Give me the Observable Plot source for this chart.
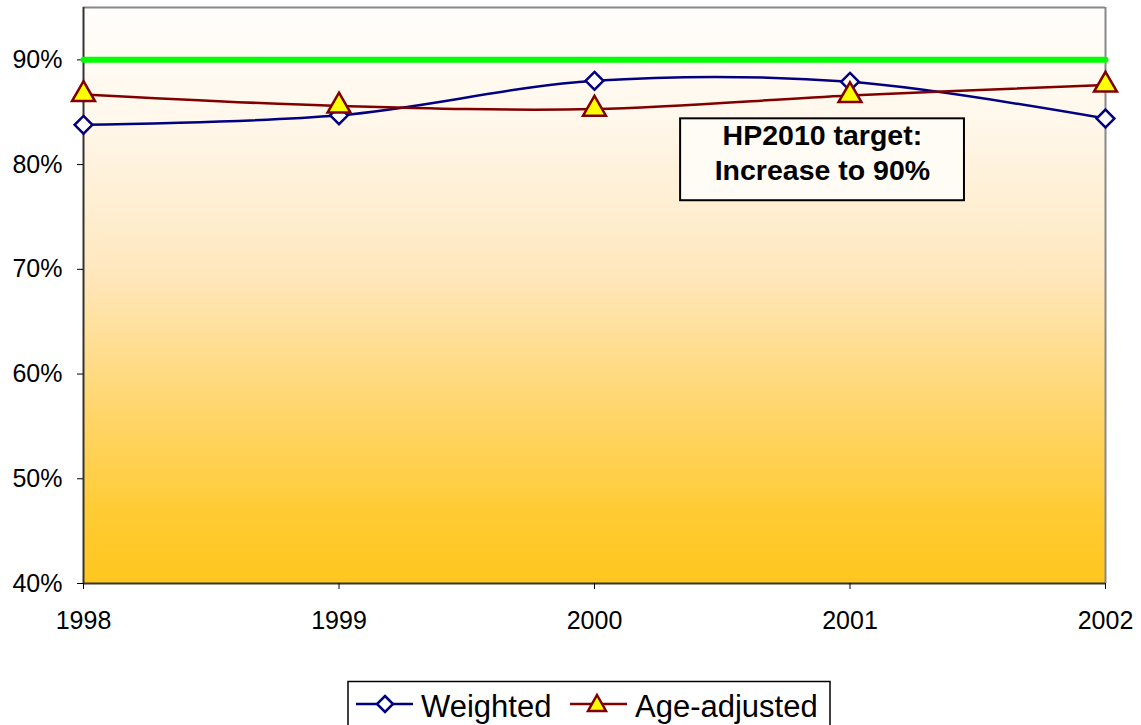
<!DOCTYPE html>
<html>
<head>
<meta charset="utf-8">
<script src="https://cdn.jsdelivr.net/npm/d3@7"></script>
<script src="https://cdn.jsdelivr.net/npm/@observablehq/plot@0.6"></script>
<style>
  html, body { margin: 0; padding: 0; background: #fff; }
  body { width: 1141px; height: 725px; overflow: hidden; font-family: "Liberation Sans", Arial, sans-serif; }
  #legend { position: relative; height: 53px; }
  #legend svg { position: absolute; left: 0; top: 0; }
  #chart svg g[aria-label$="tick label"] { font-size: 25px; }
  #chart svg g[aria-label$="tick label"] text { font-size: 25px; }
</style>
</head>
<body>
<div id="chart"></div>
<div id="legend"></div>
<script>
// ---- data ----
const years = [1998, 1999, 2000, 2001, 2002];
const weighted = [83.8, 84.7, 88.0, 87.9, 84.4];
const ageAdjusted = [86.7, 85.6, 85.3, 86.6, 87.6];
const target = 90;
const yTicks = [40, 50, 60, 70, 80, 90];
const seriesNames = ["Weighted", "Age-adjusted"];
const noteText = ["HP2010 target:\nIncrease to 90%"];
const noteBox = [{x1: 2000.337, x2: 2001.448, y1: 84.37, y2: 76.55, xc: 2000.892, yc: 81.3}];

const wData = years.map((y, i) => ({year: y, value: weighted[i]}));
const aData = years.map((y, i) => ({year: y, value: ageAdjusted[i]}));
const targetData = [{year: years[0], value: target}, {year: years[years.length - 1], value: target}];

const gradientDefs = () => {
  const ns = "http://www.w3.org/2000/svg";
  const defs = document.createElementNS(ns, "defs");
  defs.innerHTML = `
    <linearGradient id="bgGrad" x1="0" y1="0" x2="0" y2="1">
      <stop offset="0" stop-color="#fffefc"/>
      <stop offset="0.2" stop-color="#fff7ea"/>
      <stop offset="0.45" stop-color="#ffe8c0"/>
      <stop offset="0.72" stop-color="#ffd466"/>
      <stop offset="0.89" stop-color="#ffcb30"/>
      <stop offset="1" stop-color="#ffc61e"/>
    </linearGradient>`;
  return defs;
};

const chart = Plot.plot({
  width: 1141,
  height: 672,
  marginLeft: 83,
  marginRight: 36,
  marginTop: 7,
  marginBottom: 89,
  style: {fontFamily: "'Liberation Sans', Arial, sans-serif", fontSize: "25px", color: "#000", background: "transparent"},
  x: {domain: [1998, 2002], label: null},
  y: {domain: [40, 95], label: null},
  marks: [
    gradientDefs,
    Plot.frame({fill: "url(#bgGrad)", stroke: null}),
    Plot.ruleX([2002], {stroke: "#888", strokeWidth: 2}),
    Plot.ruleY([95], {stroke: "#888", strokeWidth: 2}),
    Plot.ruleX([1998], {stroke: "#333", strokeWidth: 2}),
    Plot.ruleY([40], {stroke: "#333", strokeWidth: 2}),
    Plot.axisY(yTicks, {tickSize: 6, tickPadding: 15, tickFormat: d => d + "%", fontSize: 25, stroke: "#000"}),
    Plot.axisX(years, {tickSize: 6, tickPadding: 22, tickFormat: d => String(d), fontSize: 25, stroke: "#000"}),
    Plot.line(targetData, {x: "year", y: "value", stroke: "#00ff00", strokeWidth: 6, strokeLinecap: "round"}),
    Plot.line(wData, {x: "year", y: "value", stroke: "#000080", strokeWidth: 2.5, curve: "catmull-rom"}),
    Plot.line(aData, {x: "year", y: "value", stroke: "#800000", strokeWidth: 2.5, curve: "catmull-rom"}),
    Plot.dot(wData, {x: "year", y: "value", symbol: "diamond2", r: 8, stroke: "#000080", fill: "#fff", strokeWidth: 2.5}),
    Plot.dot(aData, {x: "year", y: "value", symbol: "triangle", r: 8.5, stroke: "#800000", fill: "#ffff00", strokeWidth: 2.5}),
    Plot.rect(noteBox, {x1: "x1", x2: "x2", y1: "y1", y2: "y2", fill: "#fffcf6", stroke: "#000", strokeWidth: 2}),
    Plot.text(noteBox, {x: "xc", y: "yc", text: () => noteText[0], fontSize: 28.5, fontWeight: "bold", fill: "#000", lineHeight: 1.23})
  ]
});
document.getElementById("chart").appendChild(chart);

// ---- legend ----
const ns = "http://www.w3.org/2000/svg";
const lsvg = document.createElementNS(ns, "svg");
lsvg.setAttribute("width", 1141);
lsvg.setAttribute("height", 53);
lsvg.innerHTML = `
  <rect x="348" y="9.5" width="482" height="50" fill="#fff" stroke="#000" stroke-width="1.5"/>
  <line x1="356" y1="32" x2="413" y2="32" stroke="#000080" stroke-width="2.5"/>
  <path d="M385,24 L393,32 L385,40 L377,32 Z" fill="#fff" stroke="#000080" stroke-width="2.5"/>
  <text x="421" y="45" font-size="31" font-family="'Liberation Sans', Arial, sans-serif">${seriesNames[0]}</text>
  <line x1="570" y1="32" x2="627" y2="32" stroke="#800000" stroke-width="2.5"/>
  <path d="M597,23 L606,39 L588,39 Z" fill="#ffff00" stroke="#800000" stroke-width="2.5"/>
  <text x="635" y="45" font-size="31" font-family="'Liberation Sans', Arial, sans-serif">${seriesNames[1]}</text>
`;
document.getElementById("legend").appendChild(lsvg);
</script>
</body>
</html>
